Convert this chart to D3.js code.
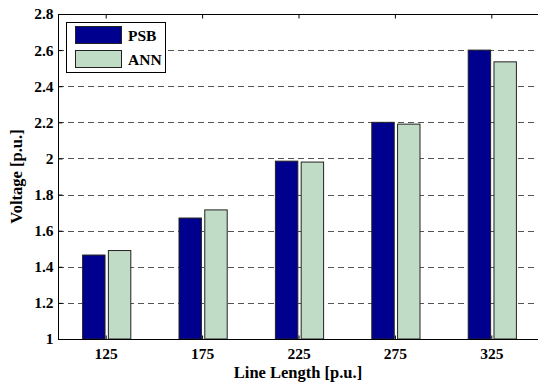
<!DOCTYPE html>
<html>
<head>
<meta charset="utf-8">
<script src="https://cdn.jsdelivr.net/npm/d3@7"></script>
<style>
  html, body { margin: 0; padding: 0; background: #fff; overflow: hidden; }
  svg { display: block; }
</style>
</head>
<body>
<svg id="chart" width="538" height="384"></svg>
<script>
// Line lengths and the voltages from the two methods
const lineLengths = ["125", "175", "225", "275", "325"];
const psbValues = [1.465, 1.67, 1.985, 2.2, 2.6];
const annValues = [1.49, 1.715, 1.98, 2.19, 2.535];
const seriesNames = ["PSB", "ANN"];
const seriesColors = ["#00008f", "#c1dcc6"];
const yTicks = [1, 1.2, 1.4, 1.6, 1.8, 2, 2.2, 2.4, 2.6, 2.8];

const FONT = "'Liberation Serif', 'Times New Roman', Times, serif";
const svg = d3.select("#chart");
const x0 = 58, x1 = 540;          // plot box runs past the right edge
const y0 = 339, y1 = 14;

const x = d3.scaleBand().domain(lineLengths).range([x0, x1]);
const y = d3.scaleLinear().domain([1, 2.8]).range([y0, y1]);
const sub = d3.scaleBand().domain(seriesNames).range([0, x.bandwidth() * 0.5]).paddingInner(0.13);
const offset = x.bandwidth() * 0.25;

// dashed horizontal grid
svg.append("g").selectAll("line")
  .data(yTicks.filter(d => d > 1 && d < 2.8))
  .join("line")
  .attr("x1", x0).attr("x2", x1)
  .attr("y1", d => Math.round(y(d)) + 0.5).attr("y2", d => Math.round(y(d)) + 0.5)
  .attr("stroke", "#555").attr("stroke-width", 1)
  .attr("stroke-dasharray", "6,4");

// bars
const rows = lineLengths.map((c, i) => ({ c, vals: [psbValues[i], annValues[i]] }));
const groups = svg.append("g").selectAll("g")
  .data(rows).join("g")
  .attr("transform", d => `translate(${x(d.c) + offset},0)`);
groups.selectAll("rect")
  .data(d => d.vals.map((v, k) => ({ v, k })))
  .join("rect")
  .attr("x", d => sub(seriesNames[d.k]) + 0.5)
  .attr("width", sub.bandwidth())
  .attr("y", d => y(d.v))
  .attr("height", d => y0 - y(d.v))
  .attr("fill", d => seriesColors[d.k])
  .attr("stroke", "#222").attr("stroke-width", 1);

// axes (ticks pointing inward, box around plot)
function styleText(sel, size) {
  sel.attr("font-family", FONT).attr("font-weight", "bold")
     .attr("font-size", size).attr("fill", "#000");
}
const yAxis = d3.axisLeft(y).tickValues(yTicks).tickSize(-4).tickPadding(5)
  .tickFormat(d => d3.format("~g")(d));
const gy = svg.append("g").attr("transform", `translate(${x0 + 0.5},0)`).call(yAxis);
gy.attr("font-family", null).attr("font-size", null);
gy.select(".domain").remove();
styleText(gy.selectAll("text"), 15.5);
gy.selectAll("line").attr("stroke", "#000");

const xAxis = d3.axisBottom(x).tickSize(-4).tickPadding(8);
const gx = svg.append("g").attr("transform", `translate(0,${y0 + 0.5})`).call(xAxis);
gx.attr("font-family", null).attr("font-size", null);
gx.select(".domain").remove();
styleText(gx.selectAll("text"), 15.5);
gx.selectAll("line").attr("stroke", "#000");

const gt = svg.append("g").attr("transform", `translate(0,${y1 + 0.5})`)
  .call(d3.axisTop(x).tickSize(-4).tickFormat(""));
gt.select(".domain").remove();
gt.selectAll("line").attr("stroke", "#000");

svg.append("rect")
  .attr("x", x0 + 0.5).attr("y", y1 + 0.5)
  .attr("width", x1 - x0 + 4).attr("height", y0 - y1)
  .attr("fill", "none").attr("stroke", "#000").attr("stroke-width", 1);

// axis titles
styleText(svg.append("text")
  .attr("x", 298).attr("y", 378)
  .attr("text-anchor", "middle")
  .text("Line Length [p.u.]"), 16.5);
styleText(svg.append("text")
  .attr("transform", `translate(22,${(y0 + y1) / 2}) rotate(-90)`)
  .attr("text-anchor", "middle")
  .text("Voltage [p.u.]"), 16.5);

// legend
const lg = svg.append("g");
lg.append("rect").attr("x", 66.5).attr("y", 22.5).attr("width", 99).attr("height", 50)
  .attr("fill", "#fff").attr("stroke", "#000");
seriesNames.forEach((name, i) => {
  lg.append("rect")
    .attr("x", 75.5).attr("y", 26.5 + i * 24).attr("width", 46).attr("height", 17)
    .attr("fill", seriesColors[i]).attr("stroke", "#222");
  styleText(lg.append("text")
    .attr("x", 128).attr("y", 41 + i * 24)
    .text(name), 15.5);
});
</script>
</body>
</html>
